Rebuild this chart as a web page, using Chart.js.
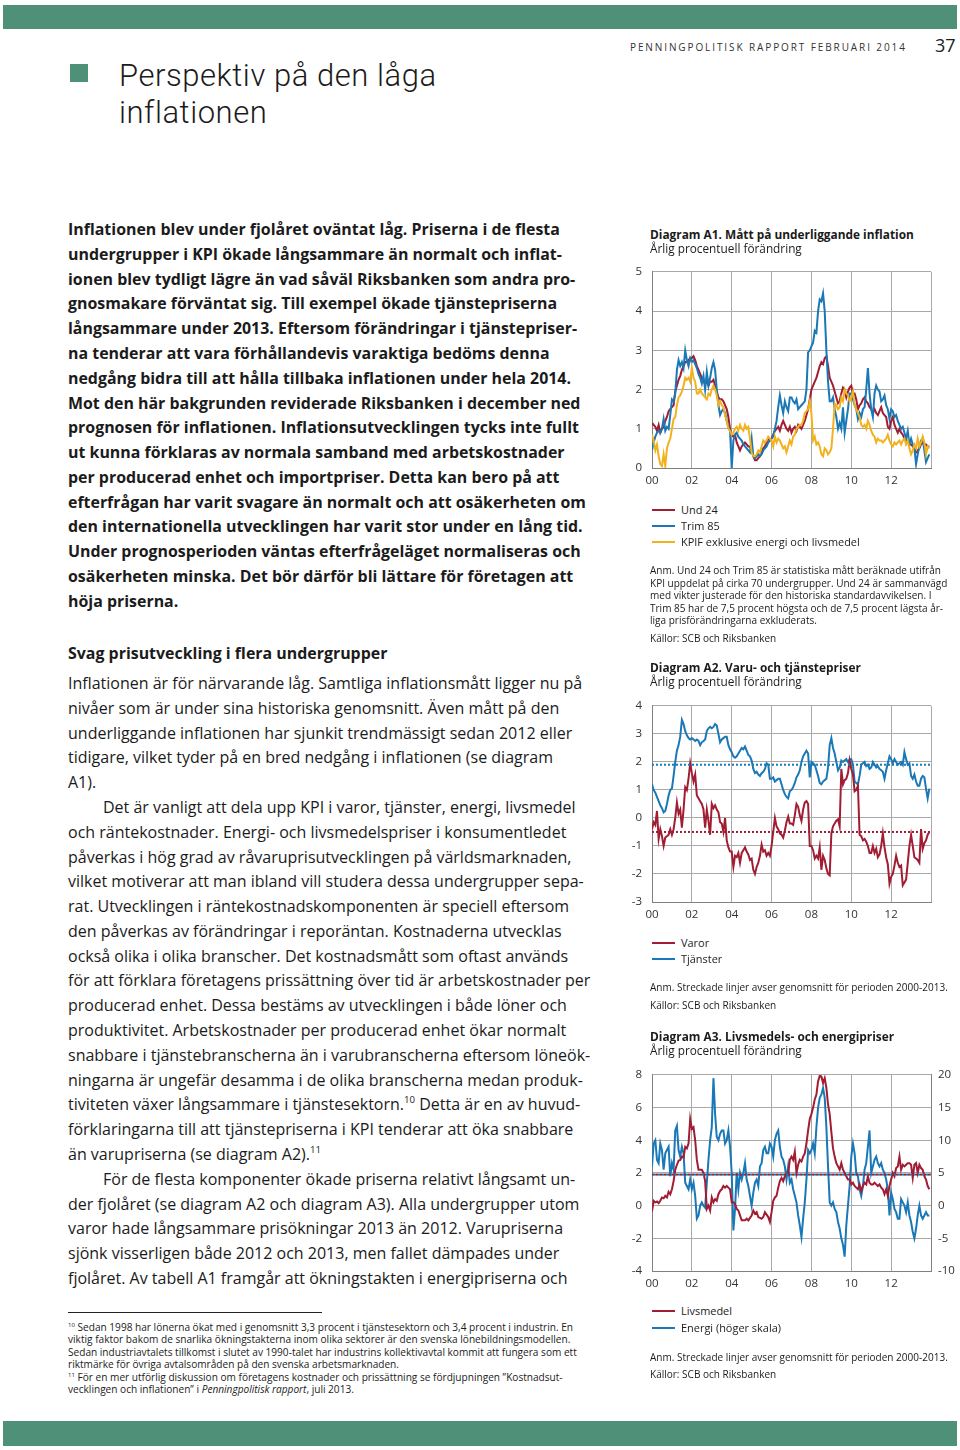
<!DOCTYPE html>
<html>
<head>
<meta charset="utf-8">
<script src="https://cdn.jsdelivr.net/npm/chart.js@4.4.1/dist/chart.umd.min.js"></script>
<style>
  body { margin: 0; width: 960px; height: 1450px; position: relative; overflow: hidden; background: #fff; color: #1b1b1b; font-family: 'Open Sans', sans-serif; }
  .band { position: absolute; left: 3px; right: 3px; background: #4f9079; }
  .ln { position: absolute; white-space: nowrap; line-height: 20px; }
  .ln sup { font-size: 0.6em; line-height: 0; vertical-align: 0.7em; }
  .key { position: absolute; left: 652px; width: 23px; height: 2px; }
  canvas { position: absolute; }
</style>
</head>
<body>
<div class="band" style="top:5px;height:24px"></div>
<div class="band" style="top:1421px;height:25px"></div>
<div style="position:absolute;left:70px;top:64px;width:18px;height:18px;background:#4f9079"></div>
<div style="position:absolute;left:68px;top:1312px;width:254px;height:1px;background:#222"></div>

<canvas id="chartA1" width="320" height="237" style="left:630px;top:255px"></canvas>
<canvas id="chartA2" width="320" height="237" style="left:630px;top:689px"></canvas>
<canvas id="chartA3" width="330" height="237" style="left:630px;top:1058px"></canvas>

<div class="key" style="top:509px;background:#a11d33"></div>
<div class="key" style="top:525px;background:#1a78b6"></div>
<div class="key" style="top:541px;background:#f2b21e"></div>
<div class="key" style="top:942px;background:#a11d33"></div>
<div class="key" style="top:958px;background:#1a78b6"></div>
<div class="key" style="top:1310px;background:#a11d33"></div>
<div class="key" style="top:1327px;background:#1a78b6"></div>

<script>
// --- data: monthly values Jan 2000 - Dec 2013 ---
const startYear = 2000;
const xTicks = ['00', '02', '04', '06', '08', '10', '12'];

const und24 = [
  1.15,1.1,1.05,0.95,1.1,0.9,1.0,1.05,1.2,1.3,1.45,1.5,
  1.55,1.6,1.95,2.1,2.25,2.35,2.5,2.6,2.7,2.7,2.75,2.8,
  2.8,2.85,2.75,2.6,2.5,2.4,2.3,2.2,2.15,2.2,2.1,2.2,
  2.2,2.25,2.1,1.95,1.8,1.75,1.75,1.7,1.6,1.5,1.3,1.0,
  0.85,0.8,0.85,0.65,0.55,0.45,0.55,0.6,0.65,0.6,0.55,0.55,
  0.45,0.3,0.2,0.2,0.25,0.3,0.4,0.5,0.55,0.65,0.75,0.7,
  0.75,0.85,0.95,1.0,1.05,0.95,1.1,1.2,1.1,1.0,0.95,1.05,
  0.9,1.0,1.05,0.95,1.1,1.05,1.0,1.1,1.2,1.35,1.5,1.75,
  2.0,2.1,2.2,2.3,2.45,2.6,2.7,2.65,2.8,2.85,2.6,2.3,
  2.2,2.1,1.95,1.8,1.65,1.7,1.9,2.05,2.0,1.8,1.95,2.05,
  2.1,1.9,1.9,1.75,1.5,1.6,1.65,1.75,1.8,1.7,1.65,1.55,
  1.5,1.4,1.5,1.4,1.35,1.45,1.55,1.4,1.35,1.3,1.05,1.0,
  1.2,1.3,1.1,1.0,0.9,1.0,0.9,0.85,0.75,0.7,0.65,0.6,
  0.6,0.55,0.5,0.4,0.45,0.5,0.6,0.65,0.6,0.6,0.55,0.55
];
const trim85 = [
  0.45,0.65,0.8,0.9,0.95,0.9,1.0,1.25,0.95,1.05,1.0,1.35,
  1.75,1.7,1.9,2.5,2.75,2.6,2.7,2.55,3.0,2.75,2.6,2.8,
  2.7,2.75,2.65,2.55,2.4,2.3,2.15,2.35,2.0,2.45,2.1,2.3,
  2.55,2.7,2.5,2.0,1.6,1.35,1.45,1.5,1.4,1.2,1.05,0.95,
  0.0,0.7,0.85,0.9,0.8,0.75,0.7,0.6,0.55,0.5,0.45,0.4,
  0.75,0.3,0.25,0.3,0.35,0.3,0.35,0.45,0.5,0.55,0.65,0.7,
  0.75,0.8,1.0,1.2,1.55,1.85,1.6,1.4,1.7,1.55,1.45,1.8,
  1.8,1.7,1.65,1.75,1.5,1.55,1.6,1.65,1.7,2.0,2.95,3.0,
  3.1,3.2,3.5,3.45,4.0,4.3,4.25,4.45,4.0,3.0,2.2,1.7,
  1.7,1.8,1.5,1.3,1.0,1.15,1.0,1.55,0.9,1.2,1.5,1.9,
  1.9,1.75,1.6,1.5,1.25,1.4,1.3,1.5,1.55,2.0,2.55,1.9,
  1.5,1.3,1.9,2.1,2.0,1.95,1.7,1.75,1.85,1.6,1.5,1.25,
  1.5,1.45,1.3,1.35,1.2,1.1,1.0,1.05,0.9,0.75,0.95,0.6,
  0.75,0.6,0.5,0.1,0.35,0.55,0.7,0.75,0.45,0.15,0.25,0.35
];
const kpifExkl = [
  0.85,0.7,0.45,0.6,0.3,0.1,0.05,0.35,0.05,0.5,0.65,0.75,
  1.0,1.25,1.3,1.6,1.8,1.85,1.95,2.1,2.3,2.25,2.3,2.2,
  2.55,2.3,2.2,1.9,1.9,2.0,1.9,1.85,1.8,1.75,1.9,1.85,
  2.0,2.1,2.0,1.85,1.6,1.7,1.6,1.55,1.35,1.2,1.0,0.95,
  0.85,0.9,1.0,1.05,0.95,1.1,1.0,0.95,1.1,1.0,1.05,0.75,
  0.4,0.3,0.3,0.35,0.45,0.4,0.55,0.7,0.65,0.7,0.8,0.75,
  0.7,0.55,0.8,0.65,0.75,0.7,0.6,0.5,0.55,0.4,0.55,0.7,
  0.6,0.8,0.85,1.0,1.05,1.1,1.1,1.2,1.4,1.45,1.5,1.7,
  1.4,0.7,0.8,0.6,0.65,0.55,0.35,0.3,0.5,0.45,0.35,0.4,
  0.5,1.0,1.65,1.6,1.5,1.55,1.8,1.7,2.0,1.9,1.85,1.7,
  1.8,1.95,1.6,1.5,1.4,1.3,1.1,1.05,1.1,1.0,1.2,1.1,
  0.95,0.85,0.8,0.65,0.75,0.7,0.7,0.65,0.7,0.75,0.85,0.7,
  0.6,0.55,0.65,0.6,0.65,0.7,0.6,0.7,0.75,0.6,0.7,0.5,
  0.35,0.45,0.6,0.5,0.75,0.55,0.65,0.8,0.65,0.35,0.55,0.5
];

const varor = [
  -0.4,-0.15,-0.25,0.25,-0.75,-0.4,-0.65,-1.0,-0.7,-0.65,-0.6,-0.4,
  -0.6,-0.4,0.0,0.55,0.15,0.3,-0.35,0.3,1.1,1.0,1.4,1.95,
  1.6,1.3,1.55,0.8,0.7,0.6,0.5,0.3,-0.35,0.3,-0.1,-0.6,
  0.5,0.35,0.45,0.3,0.2,-0.15,-0.2,-0.5,0.0,-0.8,-1.05,-1.2,
  -1.2,-1.75,-1.35,-1.4,-1.25,-1.6,-1.25,-1.15,-1.05,-1.2,-1.3,-1.5,
  -1.45,-1.85,-2.0,-1.75,-1.6,-1.35,-0.95,-1.2,-1.15,-1.35,-1.25,-1.35,
  -1.0,-0.5,0.0,-0.3,-0.4,-0.55,-0.6,-0.7,-0.45,-0.15,0.05,-0.2,
  -0.2,-0.25,0.1,0.5,0.4,0.1,-0.1,0.3,0.55,0.6,0.5,-1.0,
  -1.0,-1.15,-1.45,-1.35,-1.45,-1.05,-1.85,-1.35,-1.5,-1.8,-2.0,-2.05,
  -0.55,-0.3,-0.2,-0.1,-0.05,-0.3,1.75,1.2,1.35,1.4,1.6,2.05,
  1.75,1.55,0.95,1.0,1.15,-0.6,-0.65,-0.8,-0.75,-0.85,-1.0,-1.25,
  -1.25,-1.0,-1.25,-1.1,-1.4,-1.3,-1.0,-0.55,-1.05,-1.4,-1.65,-2.35,
  -2.1,-2.0,-1.7,-1.35,-1.6,-1.75,-1.7,-2.4,-2.3,-2.2,-1.6,-1.0,
  -0.6,-1.0,-1.4,-1.45,-1.5,-1.6,-0.4,-1.1,-0.9,-0.8,-0.6,-0.5
];
const tjanster = [
  1.2,1.0,0.9,0.75,0.6,0.45,0.35,0.2,0.25,0.5,0.8,1.0,
  1.05,1.5,2.0,2.4,2.6,2.9,3.5,3.35,3.1,2.95,2.85,2.8,
  2.85,2.8,2.75,2.8,2.75,2.6,2.7,2.75,2.8,3.1,3.2,3.25,
  3.2,3.25,3.35,3.3,3.0,2.7,2.8,2.85,2.9,2.9,2.6,2.45,
  2.35,2.2,2.15,2.2,2.3,2.4,2.5,2.45,2.55,2.4,2.25,2.2,
  2.05,1.75,1.6,1.65,1.55,1.5,1.6,1.65,1.75,1.95,1.9,1.4,
  1.4,1.45,1.3,1.35,1.4,1.4,1.2,1.0,0.85,0.75,0.7,0.95,
  1.0,1.1,1.25,1.45,1.55,1.7,2.0,2.2,2.3,2.4,2.3,1.45,
  2.0,1.95,1.9,1.7,1.5,1.25,1.2,1.3,1.35,1.4,1.8,2.6,
  2.85,2.5,2.3,2.0,1.7,1.8,2.05,2.0,2.05,2.1,2.0,2.1,
  2.1,1.9,1.3,1.25,1.2,1.5,1.9,1.95,2.0,1.85,1.9,1.75,
  1.8,2.0,1.9,1.8,1.85,1.75,1.7,1.65,1.4,1.7,1.95,2.2,
  2.1,1.95,2.1,2.0,1.9,1.95,2.0,1.9,2.35,2.1,1.9,1.95,
  1.5,1.4,1.55,1.3,1.15,1.15,1.4,1.5,1.45,1.05,0.7,1.05
];
const varorAvg = -0.5;
const tjansterAvg = 1.9;

const livsmedel = [
  -0.35,0.3,0.2,0.25,0.15,0.3,0.5,0.45,0.6,0.5,0.85,0.7,
  1.0,1.5,2.2,2.5,2.75,2.8,3.0,2.95,3.6,3.5,3.8,5.3,
  4.7,4.8,4.0,2.8,2.2,2.2,2.2,2.0,1.5,-0.2,0.0,-0.3,
  0.5,0.2,0.4,0.3,0.7,0.9,1.0,1.2,1.1,1.2,1.1,1.0,
  0.2,0.2,0.1,-0.2,-0.3,-0.6,-0.9,-0.9,-0.9,-0.8,-0.9,-0.75,
  -0.6,-0.3,-0.5,-0.4,-0.7,-0.75,-0.8,-0.7,-0.4,-0.55,-0.7,-1.0,
  -0.4,0.3,0.5,0.6,1.1,1.5,1.7,1.5,1.8,1.9,2.0,2.8,
  3.0,2.8,3.3,2.0,2.5,2.8,2.7,3.0,3.2,3.8,4.6,5.3,
  5.6,6.0,6.5,6.8,7.6,7.95,7.9,7.5,7.8,7.2,6.2,5.6,
  4.5,3.5,3.0,2.6,2.4,2.2,2.6,2.2,2.0,1.8,1.6,1.6,
  1.3,1.4,1.2,1.1,1.0,1.3,0.9,1.2,1.4,1.3,1.8,1.4,
  1.3,1.3,1.4,1.3,1.2,1.3,1.1,1.0,0.7,1.0,0.6,1.2,
  1.6,2.0,1.8,2.3,2.4,3.0,2.2,2.5,2.4,2.5,2.6,2.6,
  2.5,1.7,2.5,2.6,2.0,2.5,2.3,2.2,1.8,1.6,1.2,1.0
];
const energi = [
  6.0,9.5,10.0,7.0,6.5,9.5,8.5,5.5,8.0,8.5,9.0,4.5,
  6.5,5.5,11.5,12.2,8.5,7.5,9.0,8.0,3.5,3.0,2.5,4.0,
  2.5,3.5,1.5,-2.0,-1.5,0.0,0.5,0.0,-0.3,3.5,7.0,10.0,
  12.0,19.5,14.0,10.5,10.0,11.0,11.5,11.5,9.5,10.0,11.5,9.0,
  5.0,-3.8,-0.5,5.0,2.5,5.0,4.0,5.0,6.5,4.0,3.0,1.5,
  0.0,2.0,3.5,4.0,3.0,6.0,6.5,8.5,9.0,8.0,8.0,9.5,
  9.0,7.5,10.0,11.0,11.5,9.0,7.5,7.0,6.0,4.0,6.0,3.5,
  4.0,2.5,1.5,0.5,-1.5,-3.0,-4.8,-2.0,0.5,4.0,8.5,8.0,
  8.5,9.5,8.0,12.0,15.0,16.5,17.0,18.0,16.5,12.0,6.0,0.5,
  0.0,0.5,-0.5,-1.0,-2.5,-3.5,-5.0,-6.0,-7.8,-3.0,0.0,3.0,
  7.5,9.5,8.0,5.0,4.5,2.5,1.5,3.0,5.5,6.5,9.0,11.5,
  5.0,6.0,7.0,7.5,6.5,6.0,6.5,5.5,5.0,4.0,2.5,-1.5,
  2.0,1.0,-0.5,-1.0,-2.0,-2.0,1.0,0.5,0.0,-1.0,0.5,-1.5,
  -2.5,-4.0,-5.0,-3.5,-1.5,0.0,-1.5,-2.0,-1.5,-1.0,-1.5,-1.5
];
const livsmedelAvg = 1.9;
const energiAvg = 4.75;

const RED = '#a11d33';
const BLUE = '#1a78b6';
const YELLOW = '#f2b21e';

// --- text ---
const boldLines = [
  'Inflationen blev under fjolåret oväntat låg. Priserna i de flesta',
  'undergrupper i KPI ökade långsammare än normalt och inflat-',
  'ionen blev tydligt lägre än vad såväl Riksbanken som andra pro-',
  'gnosmakare förväntat sig. Till exempel ökade tjänstepriserna',
  'långsammare under 2013. Eftersom förändringar i tjänstepriser-',
  'na tenderar att vara förhållandevis varaktiga bedöms denna',
  'nedgång bidra till att hålla tillbaka inflationen under hela 2014.',
  'Mot den här bakgrunden reviderade Riksbanken i december ned',
  'prognosen för inflationen. Inflationsutvecklingen tycks inte fullt',
  'ut kunna förklaras av normala samband med arbetskostnader',
  'per producerad enhet och importpriser. Detta kan bero på att',
  'efterfrågan har varit svagare än normalt och att osäkerheten om',
  'den internationella utvecklingen har varit stor under en lång tid.',
  'Under prognosperioden väntas efterfrågeläget normaliseras och',
  'osäkerheten minska. Det bör därför bli lättare för företagen att',
  'höja priserna.'
];
const bodyLines = [
  'Inflationen är för närvarande låg. Samtliga inflationsmått ligger nu på',
  'nivåer som är under sina historiska genomsnitt. Även mått på den',
  'underliggande inflationen har sjunkit trendmässigt sedan 2012 eller',
  'tidigare, vilket tyder på en bred nedgång i inflationen (se diagram',
  'A1).',
  '>Det är vanligt att dela upp KPI i varor, tjänster, energi, livsmedel',
  'och räntekostnader. Energi- och livsmedelspriser i konsumentledet',
  'påverkas i hög grad av råvaruprisutvecklingen på världsmarknaden,',
  'vilket motiverar att man ibland vill studera dessa undergrupper sepa-',
  'rat. Utvecklingen i räntekostnadskomponenten är speciell eftersom',
  'den påverkas av förändringar i reporäntan. Kostnaderna utvecklas',
  'också olika i olika branscher. Det kostnadsmått som oftast används',
  'för att förklara företagens prissättning över tid är arbetskostnader per',
  'producerad enhet. Dessa bestäms av utvecklingen i både löner och',
  'produktivitet. Arbetskostnader per producerad enhet ökar normalt',
  'snabbare i tjänstebranscherna än i varubranscherna eftersom löneök-',
  'ningarna är ungefär desamma i de olika branscherna medan produk-',
  'tiviteten växer långsammare i tjänstesektorn.<sup>10</sup> Detta är en av huvud-',
  'förklaringarna till att tjänstepriserna i KPI tenderar att öka snabbare',
  'än varupriserna (se diagram A2).<sup>11</sup>',
  '>För de flesta komponenter ökade priserna relativt långsamt un-',
  'der fjolåret (se diagram A2 och diagram A3). Alla undergrupper utom',
  'varor hade långsammare prisökningar 2013 än 2012. Varupriserna',
  'sjönk visserligen både 2012 och 2013, men fallet dämpades under',
  'fjolåret. Av tabell A1 framgår att ökningstakten i energipriserna och'
];
const footLines = [
  '<sup>10</sup> Sedan 1998 har lönerna ökat med i genomsnitt 3,3 procent i tjänstesektorn och 3,4 procent i industrin. En',
  'viktig faktor bakom de snarlika ökningstakterna inom olika sektorer är den svenska lönebildningsmodellen.',
  'Sedan industriavtalets tillkomst i slutet av 1990-talet har industrins kollektivavtal kommit att fungera som ett',
  'riktmärke för övriga avtalsområden på den svenska arbetsmarknaden.',
  '<sup>11</sup> För en mer utförlig diskussion om företagens kostnader och prissättning se fördjupningen ”Kostnadsut-',
  'vecklingen och inflationen” i <i>Penningpolitisk rapport</i>, juli 2013.'
];

const FAMILY = "'Open Sans', sans-serif";
const TITLE_FAMILY = "Roboto, sans-serif";
const meas = document.createElement('canvas').getContext('2d');
function fitSize(text, weight, width, family) {
  meas.font = weight + ' 100px ' + (family || FAMILY);
  return 100 * width / meas.measureText(text).width;
}

function put(html, x, y, size, weight, extra) {
  const d = document.createElement('div');
  d.className = 'ln';
  d.innerHTML = html;
  d.style.left = x + 'px';
  d.style.top = (y - 10) + 'px';
  d.style.fontSize = size.toFixed(2) + 'px';
  d.style.fontWeight = weight;
  if (extra) Object.assign(d.style, extra);
  document.body.appendChild(d);
  return d;
}

const boldSize = fitSize(boldLines[12], 700, 515);
boldLines.forEach((t, i) => put(t, 68, 229 + i * 24.79, boldSize, 700));

put('Svag prisutveckling i flera undergrupper', 68, 653, boldSize, 700);

const bodySize = fitSize(bodyLines[0], 400, 514);
bodyLines.forEach((t, i) => {
  const indent = t.startsWith('>');
  put(indent ? t.slice(1) : t, indent ? 103 : 68, 683 + i * 24.79, bodySize, 400);
});

const footSize = fitSize(footLines[2], 400, 509);
footLines.forEach((t, i) => put(t, 68, 1327 + i * 12.4, footSize, 400, {lineHeight: '12px', top: (1321 + i * 12.4) + 'px'}));

// header
const hdr = 'PENNINGPOLITISK RAPPORT FEBRUARI 2014';
meas.font = '400 10px ' + FAMILY;
const hdrLs = (275 - meas.measureText(hdr).width) / (hdr.length - 1);
put(hdr, 630, 47, 10, 400, {letterSpacing: hdrLs.toFixed(2) + 'px', color: '#333'});
put('37', 935, 45, 18, 400, {color: '#222'});
const titleText = 'Perspektiv på den låga';
const titleSize = Math.min(31, fitSize(titleText, 300, 317, TITLE_FAMILY));
meas.font = '300 ' + titleSize + 'px ' + TITLE_FAMILY;
const titleLs = Math.max(0, (317 - meas.measureText(titleText).width) / (titleText.length - 1));
const titleStyle = {fontFamily: TITLE_FAMILY, lineHeight: '34px', letterSpacing: titleLs.toFixed(2) + 'px'};
put(titleText, 119, 74, titleSize, 300, Object.assign({top: '59px'}, titleStyle));
put('inflationen', 119, 111, titleSize, 300, Object.assign({top: '96px'}, titleStyle));

// right column texts
const noteSize = fitSize('Anm. Streckade linjer avser genomsnitt för perioden 2000-2013.', 400, 298);
const titleA = fitSize('Diagram A1. Mått på underliggande inflation', 700, 264);
const subA = fitSize('Årlig procentuell förändring', 400, 152);
const keySize = fitSize('KPIF exklusive energi och livsmedel', 400, 179);

put('Diagram A1. Mått på underliggande inflation', 650, 234, titleA, 700, {lineHeight: '14px', top: '227px'});
put('Årlig procentuell förändring', 650, 248, subA, 400, {lineHeight: '14px', top: '241px'});
put('Und 24', 681, 510, keySize, 400);
put('Trim 85', 681, 526, keySize, 400);
put('KPIF exklusive energi och livsmedel', 681, 542, keySize, 400);
[
  'Anm. Und 24 och Trim 85 är statistiska mått beräknade utifrån',
  'KPI uppdelat på cirka 70 undergrupper. Und 24 är sammanvägd',
  'med vikter justerade för den historiska standardavvikelsen. I',
  'Trim 85 har de 7,5 procent högsta och de 7,5 procent lägsta år-',
  'liga prisförändringarna exkluderats.'
].forEach((t, i) => put(t, 650, 570 + i * 12.5, noteSize, 400, {lineHeight: '12px', top: (564 + i * 12.5) + 'px'}));
put('Källor: SCB och Riksbanken', 650, 638, noteSize, 400);

put('Diagram A2. Varu- och tjänstepriser', 650, 667, titleA, 700, {lineHeight: '14px', top: '660px'});
put('Årlig procentuell förändring', 650, 681, subA, 400, {lineHeight: '14px', top: '674px'});
put('Varor', 681, 943, keySize, 400);
put('Tjänster', 681, 959, keySize, 400);
put('Anm. Streckade linjer avser genomsnitt för perioden 2000-2013.', 650, 987, noteSize, 400);
put('Källor: SCB och Riksbanken', 650, 1005, noteSize, 400);

put('Diagram A3. Livsmedels- och energipriser', 650, 1036, titleA, 700, {lineHeight: '14px', top: '1029px'});
put('Årlig procentuell förändring', 650, 1050, subA, 400, {lineHeight: '14px', top: '1043px'});
put('Livsmedel', 681, 1311, keySize, 400);
put('Energi (höger skala)', 681, 1328, keySize, 400);
put('Anm. Streckade linjer avser genomsnitt för perioden 2000-2013.', 650, 1357, noteSize, 400);
put('Källor: SCB och Riksbanken', 650, 1374, noteSize, 400);

// --- charts ---
Chart.defaults.font.family = FAMILY;
Chart.defaults.color = '#333';

function series(values, color, axis) {
  return {
    data: values.map((v, i) => ({ x: startYear + i / 12, y: v })),
    borderColor: color, borderWidth: 2, pointRadius: 0, tension: 0,
    yAxisID: axis || 'y'
  };
}

function avgLine(value, color, axis, offset) {
  return {
    data: [{ x: 2000, y: value }, { x: 2014, y: value }],
    borderColor: color, borderWidth: 2, borderDash: [2, 2], borderDashOffset: offset || 0,
    pointRadius: 0, yAxisID: axis || 'y'
  };
}

function xAxis() {
  return {
    type: 'linear', min: 2000, max: 2014,
    afterFit: s => { s.height = 24; },
    afterBuildTicks: s => { s.ticks = [0, 2, 4, 6, 8, 10, 12, 14].map(v => ({ value: 2000 + v })); },
    ticks: {
      autoSkip: false, maxRotation: 0, padding: 6, font: { size: 11.5 },
      callback: v => xTicks[(v - 2000) / 2] || ''
    },
    grid: { color: '#a9a9a9', drawTicks: false },
    border: { color: '#808080' }
  };
}

function yAxis(min, max, step, position, width) {
  return {
    position: position || 'left', min: min, max: max,
    afterFit: s => { s.width = width; },
    ticks: { stepSize: step, padding: position === 'right' ? 7 : 10, font: { size: 11.5 } },
    grid: { color: '#a9a9a9', drawTicks: false, drawOnChartArea: position !== 'right' },
    border: { color: '#808080' }
  };
}

function makeChart(id, datasets, scales, pad) {
  return new Chart(document.getElementById(id), {
    type: 'line',
    data: { datasets: datasets },
    options: {
      responsive: false, animation: false, devicePixelRatio: 1,
      layout: { padding: pad },
      plugins: { legend: { display: false }, tooltip: { enabled: false } },
      scales: scales
    }
  });
}

makeChart('chartA1', [
  series(kpifExkl, YELLOW),
  series(trim85, BLUE),
  series(und24, RED)
], { x: xAxis(), y: yAxis(0, 5, 1, 'left', 22) }, { top: 6, right: 19, left: 0, bottom: 0 });

makeChart('chartA2', [
  avgLine(tjansterAvg, BLUE),
  avgLine(varorAvg, RED),
  series(varor, RED),
  series(tjanster, BLUE)
], { x: xAxis(), y: yAxis(-3, 4, 1, 'left', 22) }, { top: 6, right: 19, left: 0, bottom: 0 });

makeChart('chartA3', [
  avgLine(livsmedelAvg, RED, 'y', 0),
  avgLine(energiAvg, BLUE, 'y1', 2),
  series(livsmedel, RED),
  series(energi, BLUE, 'y1')
], {
  x: xAxis(),
  y: yAxis(-4, 8, 2, 'left', 22),
  y1: yAxis(-10, 20, 5, 'right', 29)
}, { top: 6, right: 0, left: 0, bottom: 0 });
</script>
</body>
</html>
